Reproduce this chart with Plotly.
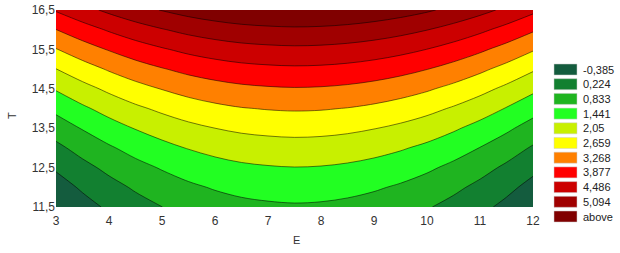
import plotly.graph_objects as go

# Axis grids
E_vals = [3, 3.5, 4, 4.5, 5, 5.5, 6, 6.5, 7, 7.5, 8, 8.5, 9, 9.5, 10, 10.5, 11, 11.5, 12]
T_vals = [11.5, 12.0, 12.5, 13.0, 13.5, 14.0, 14.5, 15.0, 15.5, 16.0, 16.5]

# Estimated surface values, one row per T value
Z = [
    [-0.97, -0.61, -0.29, -0.01, 0.22, 0.42, 0.57, 0.68, 0.74, 0.77, 0.75, 0.69, 0.59, 0.45, 0.27, 0.04, -0.23, -0.54, -0.89],
    [-0.66, -0.30, 0.02, 0.30, 0.53, 0.73, 0.88, 0.99, 1.05, 1.08, 1.06, 1.00, 0.90, 0.76, 0.58, 0.35, 0.08, -0.23, -0.58],
    [-0.31, 0.05, 0.37, 0.65, 0.88, 1.08, 1.23, 1.34, 1.40, 1.43, 1.41, 1.35, 1.25, 1.11, 0.93, 0.70, 0.43, 0.12, -0.23],
    [0.08, 0.44, 0.76, 1.04, 1.27, 1.47, 1.62, 1.73, 1.79, 1.82, 1.80, 1.74, 1.64, 1.50, 1.32, 1.09, 0.82, 0.51, 0.16],
    [0.51, 0.87, 1.19, 1.47, 1.70, 1.90, 2.05, 2.16, 2.22, 2.25, 2.23, 2.17, 2.07, 1.93, 1.75, 1.52, 1.25, 0.94, 0.59],
    [0.98, 1.34, 1.66, 1.94, 2.17, 2.37, 2.52, 2.63, 2.69, 2.72, 2.70, 2.64, 2.54, 2.40, 2.22, 1.99, 1.72, 1.41, 1.06],
    [1.49, 1.85, 2.17, 2.45, 2.68, 2.88, 3.03, 3.14, 3.20, 3.23, 3.21, 3.15, 3.05, 2.91, 2.73, 2.50, 2.23, 1.92, 1.57],
    [2.04, 2.40, 2.72, 3.00, 3.23, 3.43, 3.58, 3.69, 3.75, 3.78, 3.76, 3.70, 3.60, 3.46, 3.28, 3.05, 2.78, 2.47, 2.12],
    [2.63, 2.99, 3.31, 3.59, 3.82, 4.02, 4.17, 4.28, 4.34, 4.37, 4.35, 4.29, 4.19, 4.05, 3.87, 3.64, 3.37, 3.06, 2.71],
    [3.26, 3.62, 3.94, 4.22, 4.45, 4.65, 4.80, 4.91, 4.97, 5.00, 4.98, 4.92, 4.82, 4.68, 4.50, 4.27, 4.00, 3.69, 3.34],
    [3.93, 4.29, 4.61, 4.89, 5.12, 5.32, 5.47, 5.58, 5.64, 5.67, 5.65, 5.59, 5.49, 5.35, 5.17, 4.94, 4.67, 4.36, 4.01],
]

levels = [-0.385, 0.224, 0.833, 1.441, 2.05, 2.659, 3.268, 3.877, 4.486, 5.094]
legend_labels = ["-0,385", "0,224", "0,833", "1,441", "2,05", "2,659", "3,268", "3,877", "4,486", "5,094", "above"]
band_colors = ["#145c3e", "#128030", "#1fb420", "#22ff22", "#c8f000", "#ffff00",
               "#ff8000", "#ff0000", "#cc0000", "#a00000", "#800000"]

x_ticks = [3, 4, 5, 6, 7, 8, 9, 10, 11, 12]
y_ticks = [11.5, 12.5, 13.5, 14.5, 15.5, 16.5]
y_ticktext = ["11,5", "12,5", "13,5", "14,5", "15,5", "16,5"]

n = len(band_colors)
colorscale = [[i / (n - 1), c] for i, c in enumerate(band_colors)]
step = (levels[-1] - levels[0]) / (len(levels) - 1)

fig = go.Figure()
fig.add_trace(go.Contour(
    x=E_vals, y=T_vals, z=Z,
    colorscale=colorscale,
    showscale=False,
    contours=dict(start=levels[0], end=levels[-1], size=step, coloring="fill", showlines=True),
    line=dict(color="rgba(0,0,0,0.65)", width=0.8, smoothing=1.0),
    hoverinfo="skip",
))

FAM = "Liberation Sans, Arial, sans-serif"
font = dict(family=FAM, size=12, color="#333333")

# Pixel layout helpers for legend / titles
L, R, TOP, BOT = 56, 533, 10, 207
W, H = R - L, BOT - TOP

def px_x(p):
    return (p - L) / W

def px_y(p):
    return (BOT - p) / H

shapes = []
annotations = []
for i, (lab, col) in enumerate(zip(legend_labels, band_colors)):
    top = 64 + 14.7 * i
    shapes.append(dict(type="rect", xref="paper", yref="paper",
                       x0=px_x(554), x1=px_x(577), y0=px_y(top + 11), y1=px_y(top),
                       fillcolor=col, line=dict(color="#cccccc", width=0.5)))
    annotations.append(dict(xref="paper", yref="paper", x=px_x(581), y=px_y(top + 5.5),
                            text=lab, showarrow=False, xanchor="left", yanchor="middle",
                            font=dict(family=FAM, size=11, color="#222222")))

annotations.append(dict(xref="paper", yref="paper", x=px_x(296), y=px_y(240),
                        text="E", showarrow=False, xanchor="center", yanchor="middle",
                        font=dict(family=FAM, size=11, color="#333333")))
annotations.append(dict(xref="paper", yref="paper", x=px_x(12), y=px_y(116),
                        text="T", showarrow=False, xanchor="center", yanchor="middle",
                        textangle=-90, font=dict(family=FAM, size=11, color="#333333")))

fig.update_layout(
    width=620, height=253,
    margin=dict(l=L, r=620 - R, t=TOP, b=253 - BOT, autoexpand=False),
    paper_bgcolor="white", plot_bgcolor="white",
    font=font,
    shapes=shapes, annotations=annotations,
    xaxis=dict(range=[3, 12], tickvals=x_ticks, ticks="", showgrid=True,
               gridcolor="rgba(255,255,255,0.35)", griddash="dot", layer="above traces",
               zeroline=False, showline=False, automargin=False, ticklabelstandoff=5),
    yaxis=dict(range=[11.5, 16.5], tickvals=y_ticks, ticktext=y_ticktext, ticks="",
               showgrid=True, gridcolor="rgba(255,255,255,0.35)", griddash="dot",
               layer="above traces", zeroline=False, showline=False, automargin=False),
)

fig.write_html("out.html",
               config={"displayModeBar": False, "staticPlot": True},
               post_script="document.body.style.margin='0';document.body.style.overflow='hidden';")
